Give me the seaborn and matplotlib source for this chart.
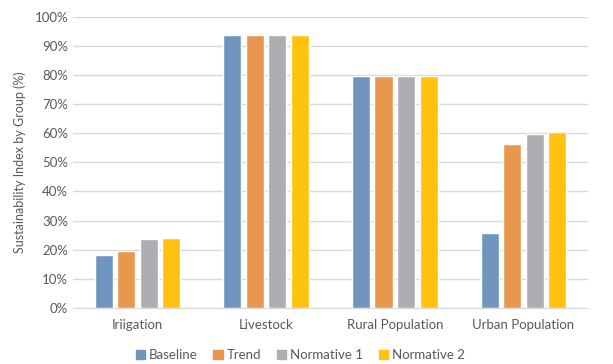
import pandas as pd
import matplotlib.pyplot as plt
import seaborn as sns
from matplotlib.ticker import PercentFormatter

# chart data
groups = ['Iriigation', 'Livestock', 'Rural Population', 'Urban Population']
scenarios = ['Baseline', 'Trend', 'Normative 1', 'Normative 2']
baseline = [0.183, 0.938, 0.795, 0.257]
trend = [0.196, 0.938, 0.795, 0.564]
normative1 = [0.236, 0.938, 0.795, 0.596]
normative2 = [0.241, 0.938, 0.795, 0.604]

colors = ['#7096C0', '#E9974F', '#ACAEB2', '#FFC20E']
text_col = '#595959'

df = pd.DataFrame({'group': groups * 4,
                   'scenario': [s for s in scenarios for _ in groups],
                   'value': baseline + trend + normative1 + normative2})

sns.set_style('white')
plt.rcParams['font.family'] = ['Lato', 'DejaVu Sans']

fig = plt.figure(figsize=(6.13, 3.64), dpi=100)
ax = fig.add_axes([0.119, 0.154, 0.84, 0.8])

sns.barplot(data=df, x='group', y='value', hue='scenario', palette=colors,
            saturation=1, width=0.7, gap=0.2, ax=ax, legend=False)

ax.set_ylim(0, 1.0)
ax.set_yticks([i / 10 for i in range(11)])
ax.yaxis.set_major_formatter(PercentFormatter(1.0, decimals=0))
ax.grid(axis='y', color='#D9D9D9', linewidth=1)
ax.set_axisbelow(True)
for s in ['left', 'right', 'top']:
    ax.spines[s].set_visible(False)
ax.spines['bottom'].set_color('#D9D9D9')
ax.tick_params(axis='both', length=0, labelsize=9.5, colors=text_col)
ax.tick_params(axis='x', pad=8)
ax.set_xlabel('')
ax.set_ylabel('Sustainability Index by Group (%)', fontsize=9, color=text_col, labelpad=6)

handles = [plt.Rectangle((0, 0), 1, 1, color=c) for c in colors]
fig.legend(handles, scenarios, loc='lower center', bbox_to_anchor=(0.49, -0.025),
           ncol=4, frameon=False, fontsize=9.5, labelcolor=text_col,
           handlelength=0.7, handleheight=0.7, handletextpad=0.3, columnspacing=1.2)

fig.savefig('out.png', dpi=100)
